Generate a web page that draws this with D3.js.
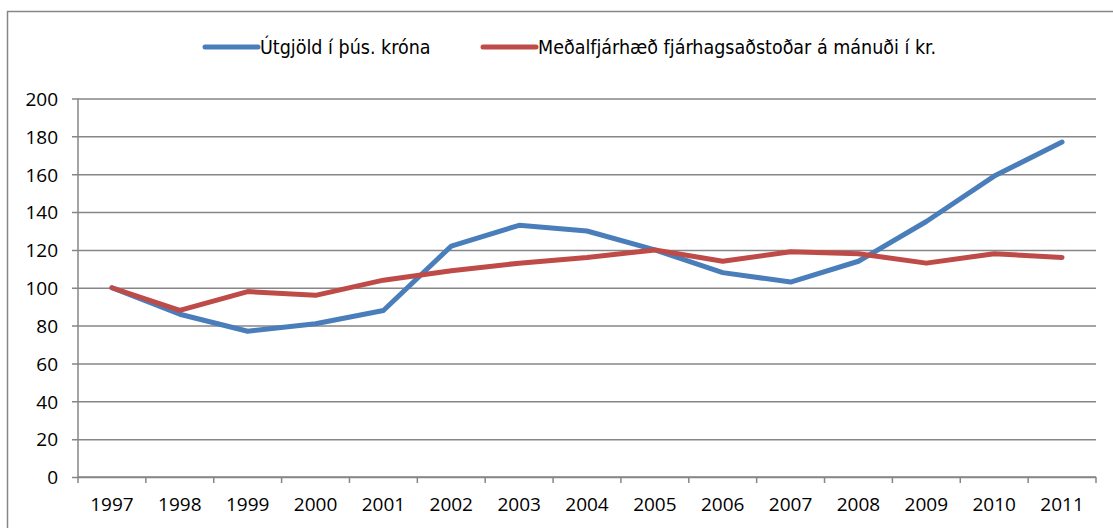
<!DOCTYPE html>
<html>
<head>
<meta charset="utf-8">
<script src="https://cdn.jsdelivr.net/npm/d3@7"></script>
<style>
  body { margin: 0; background: #fff; }
  svg { display: block; }
  .legend text { font-family: "DejaVu Sans Condensed", sans-serif; font-size: 19.5px; fill: #000; }
</style>
</head>
<body>
<svg width="1113" height="528"></svg>
<script>
// Chart data
const years = ["1997", "1998", "1999", "2000", "2001", "2002", "2003", "2004",
               "2005", "2006", "2007", "2008", "2009", "2010", "2011"];
const utgjold = [100, 86, 77, 81, 88, 122, 133, 130, 120, 108, 103, 114, 135, 159, 177];
const medal = [100, 88, 98, 96, 104, 109, 113, 116, 120, 114, 119, 118, 113, 118, 116];
const yTicks = [0, 20, 40, 60, 80, 100, 120, 140, 160, 180, 200];

const seriesNames = ["Útgjöld í þús. króna", "Meðalfjárhæð fjárhagsaðstoðar á mánuði í kr."];
const seriesColors = ["#4a7ebb", "#be4b48"];

const margin = { left: 78, right: 17, top: 98.5, bottom: 51 };
const W = 1113, H = 528;
const width = W - margin.left - margin.right;
const height = H - margin.top - margin.bottom;

const svg = d3.select("svg");

// Outer chart frame (only top and left edges fall inside the picture)
svg.append("path")
    .attr("d", `M7.5,${H}V11.5H${W}`)
    .attr("fill", "none")
    .attr("stroke", "#868686")
    .attr("stroke-width", 1.5);

const g = svg.append("g")
    .attr("transform", `translate(${margin.left},${margin.top})`);

const x = d3.scaleBand().domain(years).range([0, width]).padding(0);
const y = d3.scaleLinear().domain([0, 200]).range([height, 0]);

function styleTicks(sel) {
    sel.selectAll(".tick text")
        .style("font-family", "'Open Sans', sans-serif")
        .style("font-size", "19px")
        .attr("fill", "#000");
}

// Gridlines + y axis
const gy = g.append("g")
    .call(d3.axisLeft(y).tickValues(yTicks).tickSize(6).tickPadding(14));
gy.select(".domain").remove();
gy.selectAll(".tick line")
    .attr("x1", -6).attr("x2", width)
    .attr("stroke", "#868686").attr("stroke-width", 1.5);
gy.selectAll(".tick text").attr("dy", "0.36em");
styleTicks(gy);

// y axis line
g.append("line")
    .attr("x1", 0).attr("x2", 0).attr("y1", 0).attr("y2", height)
    .attr("stroke", "#868686").attr("stroke-width", 1.5);

// x axis with ticks at category boundaries
const gx = g.append("g")
    .attr("transform", `translate(0,${height})`)
    .call(d3.axisBottom(x).tickSize(0).tickPadding(0));
gx.select(".domain").remove();
gx.selectAll(".tick text").attr("y", 34).attr("dy", null);
styleTicks(gx);
gx.append("line")
    .attr("x1", 0).attr("x2", width)
    .attr("stroke", "#868686").attr("stroke-width", 1.5);
gx.selectAll(".boundary")
    .data(years.concat(["end"]))
    .join("line")
    .attr("class", "boundary")
    .attr("x1", (d, i) => i * x.bandwidth())
    .attr("x2", (d, i) => i * x.bandwidth())
    .attr("y1", 0).attr("y2", 6)
    .attr("stroke", "#868686").attr("stroke-width", 1.5);

// Lines
const line = d3.line()
    .x((d, i) => x(years[i]) + x.bandwidth() / 2)
    .y(d => y(d));

[utgjold, medal].forEach((vals, k) => {
    g.append("path")
        .datum(vals)
        .attr("fill", "none")
        .attr("stroke", seriesColors[k])
        .attr("stroke-width", 5)
        .attr("stroke-linejoin", "round")
        .attr("stroke-linecap", "round")
        .attr("d", line);
});

// Legend
const legend = svg.append("g").attr("class", "legend");
const legendX = [205, 483];
seriesNames.forEach((name, k) => {
    const lg = legend.append("g").attr("transform", `translate(${legendX[k]},47)`);
    lg.append("line")
        .attr("x1", 0).attr("x2", 53)
        .attr("stroke", seriesColors[k])
        .attr("stroke-width", 5)
        .attr("stroke-linecap", "round");
    lg.append("text")
        .attr("x", 55)
        .attr("y", 7)
        .text(name);
});
</script>
</body>
</html>
